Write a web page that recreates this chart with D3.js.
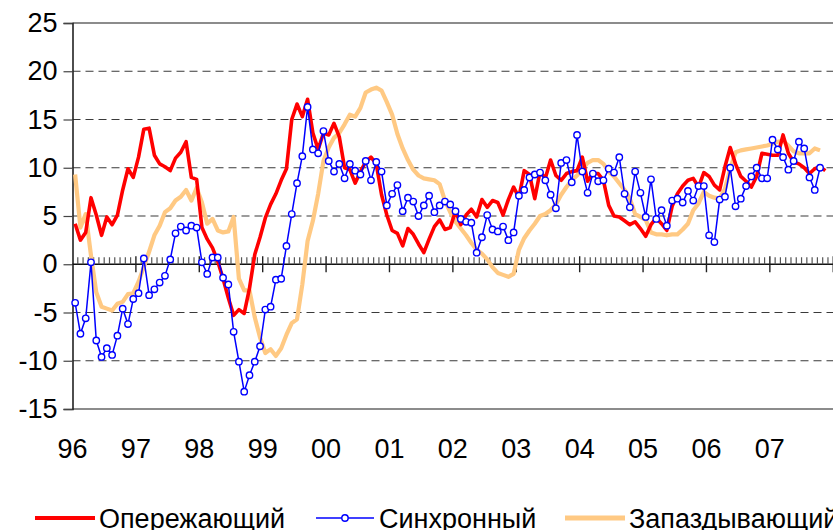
<!DOCTYPE html>
<html><head><meta charset="utf-8">
<script src="https://cdn.jsdelivr.net/npm/d3@7"></script>
<style>html,body{margin:0;padding:0;background:#fff;overflow:hidden}</style>
</head><body>
<svg id="c" width="833" height="530"></svg>
<script>
const yearLabels = ["96","97","98","99","00","01","02","03","04","05","06","07"];
const yTicks = [-15,-10,-5,0,5,10,15,20,25];
const seriesNames = ["Опережающий","Синхронный","Запаздывающий"];

// monthly values, Jan 1996 onward
const leading = [4.2,2.5,3.3,6.9,5.1,3.0,4.9,4.1,5.1,7.7,
 9.9,9.0,11.1,14.0,14.1,11.3,10.4,10.1,9.7,11.0,
 11.6,12.7,9.0,8.8,3.8,2.6,1.7,0.3,-1.5,-3.5,
 -5.3,-4.7,-5.1,-2.5,1.0,2.8,4.8,6.2,7.3,8.7,
 9.9,15.0,16.6,15.3,17.1,13.6,11.9,13.6,13.4,14.6,
 13.2,10.0,9.8,8.4,9.6,10.6,11.1,10.4,7.2,5.1,
 3.5,3.2,1.9,3.7,3.1,2.1,1.2,2.6,3.9,4.6,
 3.6,3.8,5.5,4.1,5.1,5.7,4.9,6.7,5.9,6.6,
 6.4,5.1,6.7,8.0,6.9,9.7,9.3,6.8,9.6,8.9,
 10.8,9.2,8.7,9.4,9.6,9.7,11.1,8.6,9.4,9.4,
 8.7,6.1,5.0,4.9,4.5,4.1,4.4,3.7,2.9,4.1,
 4.8,4.2,3.5,6.0,7.3,8.1,8.7,8.9,8.0,9.5,
 9.1,8.2,7.7,10.1,12.1,10.4,9.1,8.6,8.0,9.1,
 11.5,11.4,11.3,11.3,13.4,11.5,10.6,10.4,10.0,9.4,
 9.9,10.1,9.7];

const coincident = [-4.0,-7.2,-5.6,0.2,-7.9,-9.6,-8.7,-9.4,-7.4,-4.6,
 -6.2,-3.6,-3.0,0.6,-3.2,-2.6,-1.9,-1.2,0.5,3.2,
 3.9,3.5,4.0,3.8,0.2,-1.0,0.7,0.7,-1.4,-2.1,
 -7.0,-10.1,-13.2,-11.5,-10.1,-8.5,-4.7,-4.4,-1.6,-1.5,
 1.9,5.2,8.4,11.2,16.3,11.9,11.5,13.8,10.7,9.6,
 10.4,8.9,10.4,9.7,9.3,10.7,8.7,10.6,9.6,6.1,
 7.3,8.2,5.5,6.9,6.5,5.0,6.1,7.1,5.4,6.1,
 6.5,6.2,5.5,4.7,4.4,4.3,1.2,2.8,5.1,3.6,
 3.4,3.9,2.5,3.3,7.1,7.7,9.0,9.3,9.5,8.7,
 7.2,5.8,10.5,10.8,8.5,13.4,9.6,7.4,9.4,8.6,
 8.7,9.9,9.5,11.1,7.3,5.9,9.6,7.4,4.9,8.8,
 4.7,5.6,4.0,6.6,6.8,6.4,7.6,6.6,8.1,8.1,
 3.0,2.3,6.7,7.0,10.0,6.0,6.8,8.1,9.1,10.0,
 8.9,8.9,12.9,11.9,11.1,9.8,10.7,12.7,12.0,9.0,
 7.7,10.0];

const lagging = [9.3,3.8,5.2,0.9,-2.9,-4.4,-4.6,-4.8,-4.1,-3.9,
 -3.1,-3.0,-1.8,-0.3,1.3,3.0,4.0,5.4,5.8,6.6,
 7.0,7.7,6.6,7.9,6.4,4.2,4.7,3.5,3.3,3.4,
 4.9,-1.5,-2.7,-2.7,-5.5,-7.6,-9.2,-8.8,-9.5,-8.7,
 -7.3,-6.1,-5.7,-2.1,2.4,4.5,7.3,10.7,12.1,13.1,
 13.6,14.5,15.5,15.3,16.2,17.8,18.1,18.3,18.0,16.8,
 15.5,13.5,12.0,10.8,9.8,9.2,8.9,8.8,8.7,8.3,
 6.6,5.4,4.4,3.7,3.0,2.2,1.5,1.1,0.5,-0.3,
 -0.9,-1.1,-1.3,-1.0,1.5,2.7,3.5,4.2,5.0,5.2,
 5.6,6.2,7.2,8.0,8.7,9.2,9.9,10.5,10.8,10.8,
 10.4,9.6,9.1,8.4,7.7,6.8,5.2,4.9,4.6,3.3,
 3.1,3.1,3.0,3.1,3.1,3.6,4.2,5.6,6.3,7.5,
 7.1,6.9,6.8,7.8,9.9,11.6,11.8,11.9,12.0,12.1,
 12.2,12.3,12.5,12.7,12.8,12.3,11.7,11.5,11.5,11.5,
 12.0,11.8];

const svg = d3.select("#c");
const font = "'Liberation Sans', Arial, sans-serif";
const nMonths = 144;
const x = d3.scaleLinear().domain([0, nMonths]).range([72.5, 72.5 + nMonths * 5.283]);
const y = d3.scaleLinear().domain([-15, 25]).range([409, 23]);

// gridlines
const grid = svg.append("g");
yTicks.forEach(t => {
  if (t === 0) return;
  const edge = (t === 25 || t === -15);
  grid.append("line")
    .attr("x1", 72.5).attr("x2", 833).attr("y1", y(t)).attr("y2", y(t))
    .attr("stroke", edge ? "#8c8c8c" : "#3a3a3a")
    .attr("stroke-width", edge ? 2 : 1.2)
    .attr("stroke-dasharray", edge ? null : "8,5");
});

// y axis
const yAxis = d3.axisLeft(y).tickValues(yTicks).tickSize(9).tickPadding(6).tickFormat(d3.format("d"));
const gy = svg.append("g").attr("transform", "translate(72.5,0)").call(yAxis);
gy.select(".domain").attr("stroke", "#222").attr("stroke-width", 1.6);
gy.selectAll(".tick line").attr("stroke", "#444").attr("stroke-width", 1.2);
gy.selectAll(".tick text").attr("font-family", font).attr("font-size", 27).attr("fill", "#000")
  .text(d => d < 0 ? "-" + Math.abs(d) : d);

// zero axis with monthly ticks
const zeroY = y(0);
const xg = svg.append("g");
xg.append("line").attr("x1", 72.5).attr("x2", 833).attr("y1", zeroY).attr("y2", zeroY)
  .attr("stroke", "#111").attr("stroke-width", 1.6);
const months = d3.range(0, nMonths + 1);
xg.selectAll("line.mt").data(months.filter(m => m % 12 !== 0)).join("line")
  .attr("class", "mt")
  .attr("x1", d => x(d)).attr("x2", d => x(d))
  .attr("y1", zeroY - 7).attr("y2", zeroY)
  .attr("stroke", "#555").attr("stroke-width", 1.2);
xg.selectAll("line.Mt").data(months.filter(m => m % 12 === 0 && m > 0)).join("line")
  .attr("class", "Mt")
  .attr("x1", d => x(d)).attr("x2", d => x(d))
  .attr("y1", zeroY - 8).attr("y2", zeroY + 8)
  .attr("stroke", "#222").attr("stroke-width", 1.4);

// year labels
svg.append("g").selectAll("text").data(yearLabels).join("text")
  .attr("x", (d, i) => x(i * 12))
  .attr("y", 458)
  .attr("text-anchor", "middle")
  .attr("font-family", font).attr("font-size", 27)
  .text(d => d);

// series
const line = d3.line().x((d, i) => x(i + 0.5)).y(d => y(d));
svg.append("path").datum(lagging).attr("d", line)
  .attr("fill", "none").attr("stroke", "#FFC983").attr("stroke-width", 4.2).attr("stroke-linejoin", "round");
svg.append("path").datum(leading).attr("d", line)
  .attr("fill", "none").attr("stroke", "#FF0000").attr("stroke-width", 3.6).attr("stroke-linejoin", "round");
svg.append("path").datum(coincident).attr("d", line)
  .attr("fill", "none").attr("stroke", "#0000FF").attr("stroke-width", 1.5);
svg.append("g").selectAll("circle").data(coincident).join("circle")
  .attr("cx", (d, i) => x(i + 0.5)).attr("cy", d => y(d)).attr("r", 3.2)
  .attr("fill", "#fff").attr("stroke", "#0000FF").attr("stroke-width", 1.4);

// legend
const lg = svg.append("g").attr("font-family", font).attr("font-size", 27);
const ly = 518;
lg.append("line").attr("x1", 35).attr("x2", 95).attr("y1", ly).attr("y2", ly)
  .attr("stroke", "#FF0000").attr("stroke-width", 4);
lg.append("text").attr("x", 99).attr("y", ly + 9.5).text(seriesNames[0]);
lg.append("line").attr("x1", 316).attr("x2", 374).attr("y1", ly).attr("y2", ly)
  .attr("stroke", "#0000FF").attr("stroke-width", 1.5);
lg.append("circle").attr("cx", 345).attr("cy", ly).attr("r", 3.2)
  .attr("fill", "#fff").attr("stroke", "#0000FF").attr("stroke-width", 1.4);
lg.append("text").attr("x", 379).attr("y", ly + 9.5).text(seriesNames[1]);
lg.append("line").attr("x1", 565).attr("x2", 625).attr("y1", ly).attr("y2", ly)
  .attr("stroke", "#FFC983").attr("stroke-width", 5);
lg.append("text").attr("x", 629).attr("y", ly + 9.5).text(seriesNames[2]);
</script>
</body></html>
